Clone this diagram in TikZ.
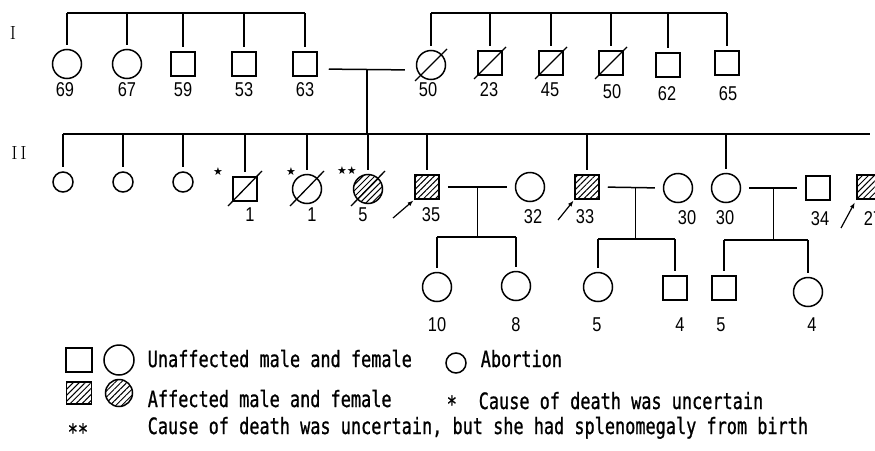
\documentclass[tikz,border=0pt]{standalone}
\usepackage{fontspec}
\usetikzlibrary{patterns.meta,calc,arrows.meta}
\newfontfamily\numfont[FakeStretch=0.82]{Liberation Sans}
\newfontfamily\legfont[FakeStretch=0.75,FakeBold=0.8]{DejaVu Sans Mono}
\newfontfamily\symfont{DejaVu Sans}
\begin{document}
\begin{tikzpicture}[x=1pt,y=-1pt,line width=1.5pt,
  male/.style={draw,rectangle,minimum width=24pt,minimum height=24pt,inner sep=0pt},
  female/.style={draw,circle,minimum size=29pt,inner sep=0pt},
  abort/.style={draw,circle,minimum size=20pt,inner sep=0pt},
  aff/.style={pattern={Lines[angle=45,distance=4.2pt,line width=1pt]}},
  num/.style={font=\numfont\fontsize{20}{22}\selectfont,inner sep=0pt},
  leg/.style={font=\legfont\fontsize{22.5}{25}\selectfont,inner sep=0pt,anchor=base west},
  gen/.style={font=\fontsize{19}{21}\selectfont,inner sep=0pt},
  starmark/.style={font=\symfont\fontsize{11}{11}\selectfont,inner sep=0pt},
  drop/.style={shorten >=4pt},
  mate/.style={shorten <=8pt,shorten >=8pt},
  strike/.style={line width=1.3pt},
  proband/.style={-{Latex[length=6pt,width=4.5pt]},line width=1.2pt}]
\useasboundingbox (0,0) rectangle (875,450);
\clip (0,0) rectangle (875,450);

% generation labels
\node[gen] (g1) at (13,33) {I};
\node[gen] (g2) at (19,153) {I\hspace{3pt}I};

% ---------- Generation I ----------
\node[female] (a1) at (67,64) {};
\node[female] (a2) at (127,64) {};
\node[male] (a3) at (183,64) {};
\node[male] (a4) at (244,64) {};
\node[male] (a5) at (305,64) {};
\node[female] (b1) at (431,65) {};
\node[male] (b2) at (490,63) {};
\node[male] (b3) at (551,63) {};
\node[male] (b4) at (611,63) {};
\node[male] (b5) at (668,65) {};
\node[male] (b6) at (727,63) {};

\coordinate (barA) at (0,13);
\draw (a1 |- barA) -- (a5 |- barA);
\foreach \n in {a1,a2,a3,a4,a5} \draw[drop] (\n |- barA) -- (\n.north);
\draw (b1 |- barA) -- (b6 |- barA);
\foreach \n in {b1,b2,b3,b4,b5,b6} \draw[drop] (\n |- barA) -- (\n.north);
\foreach \n in {b1,b2,b3,b4}
  \draw[strike] ([shift={(-16,16)}]\n.center) -- ([shift={(16,-16)}]\n.center);

\node[num] (la1) at (65,90) {69};
\node[num] (la2) at (127,90) {67};
\node[num] (la3) at (183,90) {59};
\node[num] (la4) at (244,90) {53};
\node[num] (la5) at (305,90) {63};
\node[num] (lb1) at (428,90) {50};
\node[num] (lb2) at (489,90) {23};
\node[num] (lb3) at (550,90) {45};
\node[num] (lb4) at (612,92) {50};
\node[num] (lb5) at (667,94) {62};
\node[num] (lb6) at (728,94) {65};

\draw[shorten <=11pt,shorten >=11pt] ([yshift=-5pt]a5.east) -- ([yshift=-5pt]b1.west);
\coordinate (mI) at ($([yshift=-5pt]a5.east)!0.5!([yshift=-5pt]b1.west)$);

% ---------- Generation II ----------
\node[abort] (c1) at (63,182) {};
\node[abort] (c2) at (123,182) {};
\node[abort] (c3) at (183,182) {};
\node[male] (c4) at (245,189) {};
\node[female] (c5) at (307,189) {};
\node[female,aff] (c6) at (368,189) {};
\node[male,aff] (c7) at (427,187) {};
\node[female] (d1) at (530,187) {};
\node[male,aff] (c8) at (587,187) {};
\node[female] (d2) at (678,188) {};
\node[female] (c9) at (726,188) {};
\node[male] (d3) at (818,188) {};
\node[male,aff] (c10) at (869,187) {};

\coordinate (barB) at (0,134);
\coordinate (barBend) at (870,134);
\draw (c1 |- barB) -- (barBend);
\draw (mI) -- (mI |- barB);
\foreach \n in {c1,c2,c3,c4,c5,c6,c7,c8,c9} \draw[drop] (\n |- barB) -- (\n.north);
\foreach \n in {c4,c5,c6}
  \draw[strike] ([shift={(-17,17)}]\n.center) -- ([shift={(17,-18)}]\n.center);

\node[starmark] (s1) at (218,172) {★};
\node[starmark] (s2) at (291,172) {★};
\node[starmark] (s3) at (347,171) {★★};

\node[num] (lc4) at (250,215) {1};
\node[num] (lc5) at (312,215) {1};
\node[num] (lc6) at (363,215) {5};
\node[num] (lc7) at (431,215) {35};
\node[num] (ld1) at (533,217) {32};
\node[num] (lc8) at (585,217) {33};
\node[num] (ld2) at (687,218) {30};
\node[num] (lc9) at (725,218) {30};
\node[num] (ld3) at (820,219) {34};
\node[num] (lc10) at (873,219) {27};

\coordinate (p1) at (393,218);
\coordinate (p2) at (558,220);
\coordinate (p3) at (841,228);
\draw[proband,shorten >=1pt] (p1) -- (c7.south west);
\draw[proband,shorten >=1pt] (p2) -- (c8.south west);
\draw[proband,shorten >=3pt] (p3) -- (c10.south west);

\draw[mate] (c7.east) -- (d1.west);
\coordinate (m1) at ($(c7.east)!0.5!(d1.west)$);
\draw[mate] (c8.east) -- (d2.west);
\coordinate (m2) at ($(c8.east)!0.5!(d2.west)+(4,0)$);
\draw[mate] (c9.east) -- (d3.west);
\coordinate (m3) at ($(c9.east)!0.5!(d3.west)$);

% ---------- Generation III ----------
\node[female] (e1) at (437,287) {};
\node[female] (e2) at (516,286) {};
\node[female] (e3) at (598,287) {};
\node[male] (e4) at (675,288) {};
\node[male] (e5) at (724,288) {};
\node[female] (e6) at (808,292) {};

\coordinate (barC1) at (0,237);
\coordinate (barC2) at (0,239);
\coordinate (barC3) at (0,240);
\draw (m1) -- (m1 |- barC1);
\draw (m2) -- (m2 |- barC2);
\draw (m3) -- (m3 |- barC3);
\draw (e1 |- barC1) -- (e2 |- barC1);
\draw (e3 |- barC2) -- (e4 |- barC2);
\draw (e5 |- barC3) -- (e6 |- barC3);
\foreach \n in {e1,e2} \draw[drop] (\n |- barC1) -- (\n.north);
\foreach \n in {e3,e4} \draw[drop] (\n |- barC2) -- (\n.north);
\foreach \n in {e5,e6} \draw[drop] (\n |- barC3) -- (\n.north);

\node[num] (le1) at (437,325) {10};
\node[num] (le2) at (516,325) {8};
\node[num] (le3) at (597,325) {5};
\node[num] (le4) at (680,325) {4};
\node[num] (le5) at (721,325) {5};
\node[num] (le6) at (812,325) {4};

% ---------- Legend ----------
\node[male,minimum width=26pt] (k1) at (79,360) {};
\node[female,minimum size=30pt] (k2) at (119,360) {};
\node[male,aff,minimum width=25pt,minimum height=22pt] (k3) at (79,393) {};
\node[female,aff,minimum size=27pt] (k4) at (119,393) {};
\node[abort] (k5) at (456,363) {};
\node[leg] (t1) at (147,367) {Unaffected male and female};
\node[leg] (t2) at (480,367) {Abortion};
\node[leg] (t3) at (147,407) {Affected male and female};
\node[leg] (t4) at (446,412) {*};
\node[leg] (t5) at (478,409) {Cause of death was uncertain};
\node[leg] (t6) at (67,440) {**};
\node[leg] (t7) at (147,434) {Cause of death was uncertain, but she had splenomegaly from birth};
\end{tikzpicture}
\end{document}
